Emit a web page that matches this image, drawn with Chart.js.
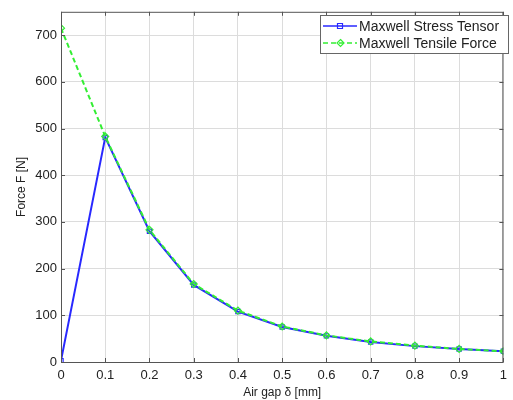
<!DOCTYPE html>
<html>
<head>
<meta charset="utf-8">
<script src="https://cdn.jsdelivr.net/npm/chart.js@4"></script>
<style>
  html, body { margin: 0; padding: 0; background: #fff; }
  #wrap { width: 513px; height: 400px; }
</style>
</head>
<body>
<div id="wrap"><canvas id="forceChart"></canvas></div>
<script>
// air gap in mm
const airGap = [0, 0.1, 0.2, 0.3, 0.4, 0.5, 0.6, 0.7, 0.8, 0.9, 1.0];
// force values in N
const stressTensor = [3, 481, 280, 165, 108, 75, 56, 43, 34, 28, 23];
const tensileForce = [715, 483, 283, 167, 110, 76, 57, 44, 35, 28, 23];
const seriesNames = ["Maxwell Stress Tensor", "Maxwell Tensile Force"];
const yTicks = [0, 100, 200, 300, 400, 500, 600, 700];

const toPoints = ys => airGap.map((x, i) => ({ x: x, y: ys[i] }));

// frame, inward ticks and legend box like the MATLAB figure
const matlabFrame = {
    id: "matlabFrame",
    afterDraw(chart) {
        const { ctx, chartArea: a, scales } = chart;
        ctx.save();
        ctx.strokeStyle = "#555";
        ctx.lineWidth = 1;
        ctx.strokeRect(a.left + 0.5, a.top + 0.5, a.right - a.left - 1, a.bottom - a.top);
        ctx.beginPath();
        airGap.forEach(v => {
            const px = Math.round(scales.x.getPixelForValue(v)) + 0.5;
            ctx.moveTo(px, a.bottom); ctx.lineTo(px, a.bottom - 4);
            ctx.moveTo(px, a.top); ctx.lineTo(px, a.top + 4);
        });
        yTicks.forEach(v => {
            const py = Math.round(scales.y.getPixelForValue(v)) + 0.5;
            ctx.moveTo(a.left, py); ctx.lineTo(a.left + 4, py);
            ctx.moveTo(a.right, py); ctx.lineTo(a.right - 4, py);
        });
        ctx.stroke();

        // legend
        const bx = 320, by = 15, bw = 188, bh = 38;
        ctx.fillStyle = "#fff";
        ctx.fillRect(bx, by, bw, bh);
        ctx.strokeStyle = "#666";
        ctx.strokeRect(bx + 0.5, by + 0.5, bw, bh);
        ctx.font = "14px 'Liberation Sans', Arial, sans-serif";
        ctx.textBaseline = "middle";
        seriesNames.forEach((name, i) => {
            const ds = chart.data.datasets.find(d => d.label === name);
            const ly = by + 11 + i * 17;
            ctx.strokeStyle = ds.borderColor;
            ctx.lineWidth = 1.5;
            ctx.setLineDash(ds.borderDash || []);
            ctx.beginPath();
            ctx.moveTo(bx + 3, ly); ctx.lineTo(bx + 37, ly);
            ctx.stroke();
            ctx.setLineDash([]);
            ctx.lineWidth = 1.2;
            ctx.beginPath();
            if (ds.pointStyle === "rect") {
                ctx.rect(bx + 17.5, ly - 2.5, 5, 5);
            } else {
                ctx.moveTo(bx + 20.5, ly - 3.5); ctx.lineTo(bx + 24, ly);
                ctx.lineTo(bx + 20.5, ly + 3.5); ctx.lineTo(bx + 17, ly);
                ctx.closePath();
            }
            ctx.stroke();
            ctx.fillStyle = "#222";
            ctx.fillText(name, bx + 39, ly + 1);
        });
        ctx.restore();
    }
};

const fontFamily = "'Liberation Sans', Arial, sans-serif";

new Chart(document.getElementById("forceChart"), {
    type: "line",
    data: {
        datasets: [
            {
                label: seriesNames[0],
                data: toPoints(stressTensor),
                borderColor: "#2828ff",
                backgroundColor: "rgba(0,0,0,0)",
                borderWidth: 2,
                pointStyle: "rect",
                pointRadius: 3,
                pointBorderWidth: 1.2,
                tension: 0,
                order: 1
            },
            {
                label: seriesNames[1],
                data: toPoints(tensileForce),
                borderColor: "#33ee33",
                backgroundColor: "rgba(0,0,0,0)",
                borderWidth: 2,
                borderDash: [5, 3],
                pointStyle: "rectRot",
                pointRadius: 3.5,
                pointBorderWidth: 1.2,
                tension: 0,
                order: 0
            }
        ]
    },
    options: {
        responsive: true,
        maintainAspectRatio: false,
        animation: false,
        layout: { padding: { top: 10, right: 2, left: 14, bottom: 0 } },
        plugins: { legend: { display: false }, tooltip: { enabled: false } },
        scales: {
            x: {
                type: "linear",
                min: 0,
                max: 1,
                afterBuildTicks: axis => { axis.ticks = airGap.map(v => ({ value: v })); },
                afterFit: scale => { scale.height = 38; },
                grid: { color: "#dcdcdc", borderDash: [1, 3], drawTicks: false },
                border: { display: false },
                ticks: {
                    padding: 6,
                    color: "#222",
                    font: { family: fontFamily, size: 13 },
                    callback: v => (v === 0 || v === 1) ? String(v) : v.toFixed(1)
                },
                title: {
                    display: true,
                    text: "Air gap δ [mm]",
                    color: "#222",
                    padding: { top: 0, bottom: 0 },
                    font: { family: fontFamily, size: 12 }
                }
            },
            y: {
                type: "linear",
                min: 0,
                max: 750,
                afterBuildTicks: axis => { axis.ticks = yTicks.map(v => ({ value: v })); },
                afterFit: scale => { scale.width = 47; },
                grid: { color: "#dcdcdc", borderDash: [1, 3], drawTicks: false },
                border: { display: false },
                ticks: {
                    padding: 4,
                    color: "#222",
                    font: { family: fontFamily, size: 13 }
                },
                title: {
                    display: true,
                    text: "Force F [N]",
                    color: "#222",
                    padding: { top: 0, bottom: 0 },
                    font: { family: fontFamily, size: 12 }
                }
            }
        }
    },
    plugins: [matlabFrame]
});
</script>
</body>
</html>
